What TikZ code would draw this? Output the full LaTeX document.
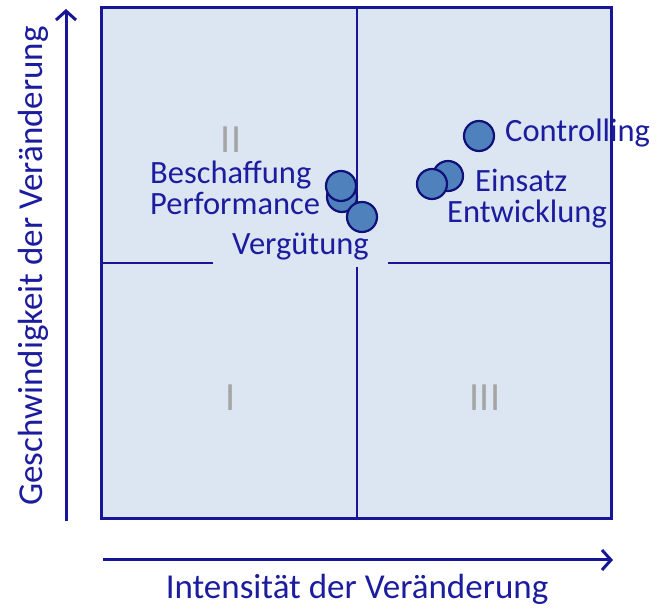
\documentclass[tikz,border=0pt]{standalone}
\usepackage{fontspec}
\setmainfont{Carlito}
\usetikzlibrary{arrows.meta}
\definecolor{quadfill}{RGB}{220,230,242}
\definecolor{quadline}{RGB}{22,22,150}
\definecolor{labelblue}{RGB}{28,28,158}
\definecolor{dotfill}{RGB}{79,129,189}
\definecolor{dotline}{RGB}{16,16,120}
\definecolor{romangray}{RGB}{165,165,165}
\begin{document}
\begin{tikzpicture}[x=1pt,y=1pt,%
% common options for the area labels:
lbl/.style = {text=labelblue, font=\fontsize{32.5}{36}\selectfont, inner sep=0, anchor=base west},
% common options for the quadrant numbers:
roman/.style = {text=romangray, font=\fontsize{40}{44}\selectfont, inner sep=0},
% common options for the circles:
dot/.style = {circle, draw=dotline, fill=dotfill, line width=2.2pt, minimum size=30pt, inner sep=0},
axis/.style = {draw=quadline, line width=3pt, -{Straight Barb[length=9pt,width=20pt,line width=3pt]}}]
\useasboundingbox (0,0) rectangle (657,609);
% quadrant field
\fill[quadfill] (101,90) rectangle (611,601);
\coordinate (midT) at (357,601);
\coordinate (midB) at (357,90);
\coordinate (midL) at (101,346);
\coordinate (midR) at (611,346);
\draw[quadline, line width=1.8pt] (midT) -- (midB);
\draw[quadline, line width=1.8pt] (midL) -- (midR);
\draw[quadline, line width=3pt] (101,90) rectangle (611,601);
% quadrant numbers
\node[roman] (qII) at (231,469) {II};
\node[roman] (qI) at (231,211) {I};
\node[roman] (qIII) at (485,211) {III};
% axes
\coordinate (yS) at (66,88);
\coordinate (yE) at (66,600);
\coordinate (xS) at (103,49);
\coordinate (xE) at (613,49);
\draw[axis] (yS) -- (yE);
\draw[axis] (xS) -- (xE);
\node[text=labelblue, font=\fontsize{35}{38}\selectfont, rotate=90, inner sep=0] (ylab) at (33,343) {Geschwindigkeit der Veränderung};
\node[text=labelblue, font=\fontsize{35}{38}\selectfont, inner sep=0, anchor=base] (xlab) at (357,10) {Intensität der Veränderung};
% areas
\node[lbl, fill=quadfill, inner xsep=19pt, inner ysep=6pt] (verg) at (213,354) {Vergütung};
\node[dot] (cPerf) at (342,412) {};
\node[dot] (cVerg) at (362,392) {};
\node[dot] (cBesch) at (341,423) {};
\node[dot] (cEins) at (448,433) {};
\node[dot] (cEntw) at (432,425) {};
\node[dot] (cCtrl) at (479,473) {};
\node[lbl, text depth=0pt] (besch) at (150,425) {Beschaffung};
\node[lbl] (perf) at (150,394) {Performance};
\node[lbl] (eins) at (475,417) {Einsatz};
\node[lbl] (entw) at (447,386) {Entwicklung};
\node[lbl] (ctrl) at (505,467) {Controlling};
\end{tikzpicture}
\end{document}
